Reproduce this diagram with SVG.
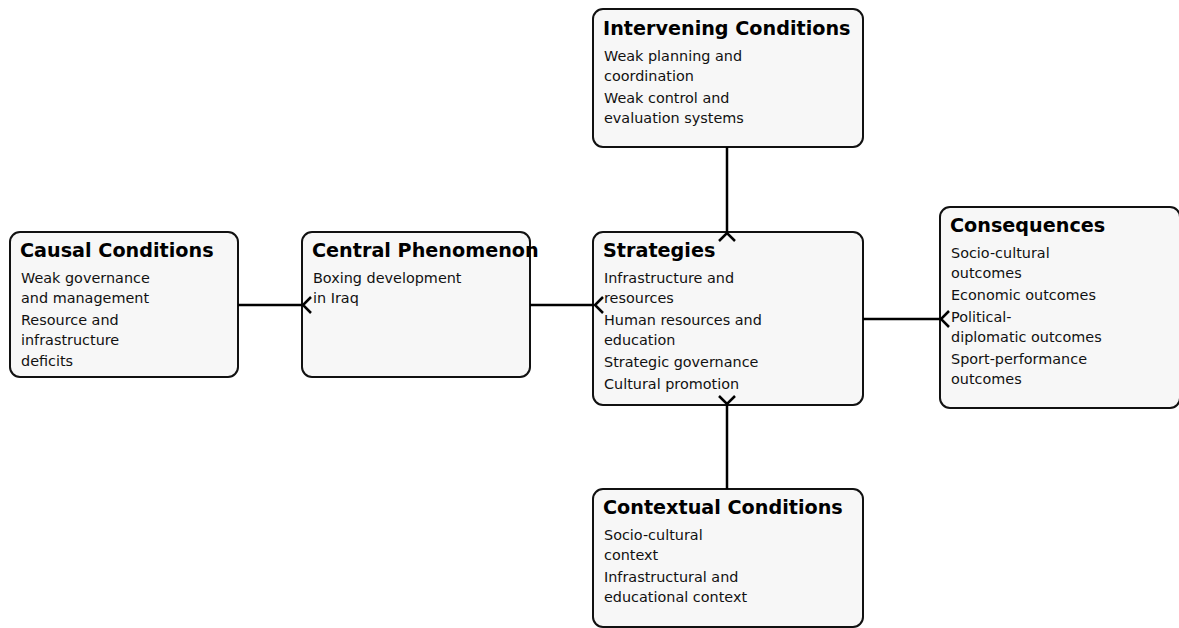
<svg xmlns="http://www.w3.org/2000/svg" width="1179" height="628" viewBox="0 0 1179 628">
<style>
.box{fill:#f7f7f7;stroke:#111;stroke-width:2}
.t{font-family:"DejaVu Sans",sans-serif;font-weight:bold;font-size:19.2px;fill:#000}
.b{font-family:"DejaVu Sans",sans-serif;font-size:14.4px;fill:#111}
.c{fill:none;stroke:#000;stroke-width:2.5}
</style>
<rect width="1179" height="628" fill="#fff"/>
<g id="causal">
<rect class="box" x="10" y="232" width="228" height="145" rx="10"/>
<text class="t" x="20" y="257">Causal Conditions</text>
<text class="b" x="21" y="283">Weak governance</text>
<text class="b" x="21" y="303">and management</text>
<text class="b" x="21" y="325">Resource and</text>
<text class="b" x="21" y="345">infrastructure</text>
<text class="b" x="21" y="366">deficits</text>
</g>
<g id="central">
<rect class="box" x="302" y="232" width="228" height="145" rx="10"/>
<text class="t" x="312" y="257">Central Phenomenon</text>
<text class="b" x="313" y="283">Boxing development</text>
<text class="b" x="313" y="303">in Iraq</text>
</g>
<g id="intervening">
<rect class="box" x="593" y="9" width="270" height="138" rx="10"/>
<text class="t" x="603" y="35">Intervening Conditions</text>
<text class="b" x="604" y="61">Weak planning and</text>
<text class="b" x="604" y="81">coordination</text>
<text class="b" x="604" y="103">Weak control and</text>
<text class="b" x="604" y="123">evaluation systems</text>
</g>
<g id="strategies">
<rect class="box" x="593" y="232" width="270" height="173" rx="10"/>
<text class="t" x="603" y="257">Strategies</text>
<text class="b" x="604" y="283">Infrastructure and</text>
<text class="b" x="604" y="303">resources</text>
<text class="b" x="604" y="325">Human resources and</text>
<text class="b" x="604" y="345">education</text>
<text class="b" x="604" y="367">Strategic governance</text>
<text class="b" x="604" y="389">Cultural promotion</text>
</g>
<g id="consequences">
<rect class="box" x="940" y="207" width="240" height="201" rx="10"/>
<text class="t" x="950" y="232">Consequences</text>
<text class="b" x="951" y="258">Socio-cultural</text>
<text class="b" x="951" y="278">outcomes</text>
<text class="b" x="951" y="300">Economic outcomes</text>
<text class="b" x="951" y="322">Political-</text>
<text class="b" x="951" y="342">diplomatic outcomes</text>
<text class="b" x="951" y="364">Sport-performance</text>
<text class="b" x="951" y="384">outcomes</text>
</g>
<g id="contextual">
<rect class="box" x="593" y="489" width="270" height="138" rx="10"/>
<text class="t" x="603" y="514">Contextual Conditions</text>
<text class="b" x="604" y="540">Socio-cultural</text>
<text class="b" x="604" y="560">context</text>
<text class="b" x="604" y="582">Infrastructural and</text>
<text class="b" x="604" y="602">educational context</text>
</g>
<g id="connectors">
<path class="c" d="M238,305H302"/>
<path class="c" d="M311,297L303,305L311,313"/>
<path class="c" d="M530,305H594"/>
<path class="c" d="M603,297L595,305L603,313"/>
<path class="c" d="M727,147V232"/>
<path class="c" d="M719,241L727,233L735,241"/>
<path class="c" d="M727,405V489"/>
<path class="c" d="M719,396L727,404L735,396"/>
<path class="c" d="M863,319H940"/>
<path class="c" d="M949,311L941,319L949,327"/>
</g>
</svg>
